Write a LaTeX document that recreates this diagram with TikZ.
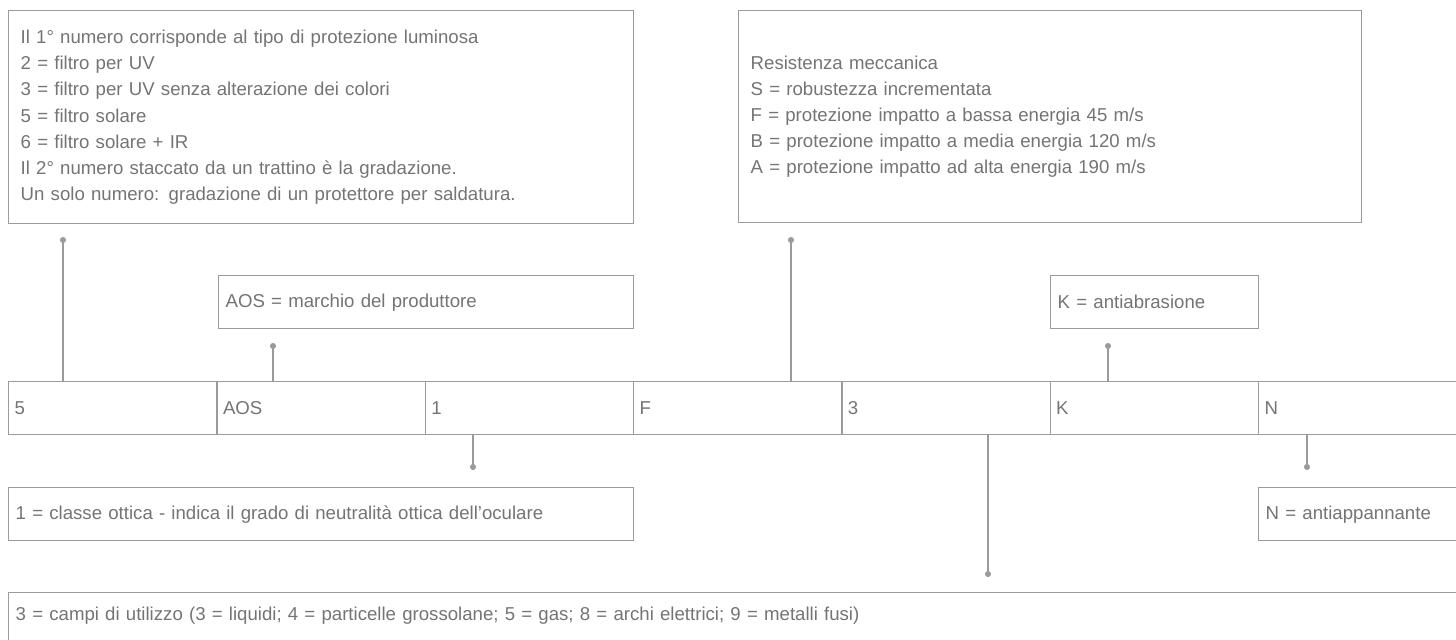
\documentclass[tikz,border=0pt]{standalone}
\usepackage{fontspec}
\setmainfont{Liberation Sans}
\usetikzlibrary{arrows.meta}

\definecolor{linegray}{HTML}{9B9B9B}
\definecolor{textgray}{HTML}{747474}

\tikzset{
	box/.style = {draw = linegray, line width = 0.8pt, anchor = north west, align = left,
		text = textgray, font = \fontsize{10.6}{14.9}\selectfont, inner xsep = 0.14cm},
	bigbox/.style = {box, inner xsep = 0.24cm},
	cell/.style = {box, inner xsep = 0.12cm, minimum width = 4.166cm, text width = 3.926cm, minimum height = 1.06cm},
	link/.style = {draw = linegray, line width = 0.8pt, -{Circle[length = 3.4pt]}}
}

\begin{document}
\begin{tikzpicture}

	\useasboundingbox (0, 0) rectangle (29.12, -12.78);
	\clip (0, 0) rectangle (29.12, -12.78);

	\node [bigbox, text width = 12.02cm, minimum height = 4.26cm] (lum) at (0.16, -0.20)
		{Il 1° numero corrisponde al tipo di protezione luminosa\\
		2 = filtro per UV\\
		3 = filtro per UV senza alterazione dei colori\\
		5 = filtro solare\\
		6 = filtro solare + IR\\
		Il 2° numero staccato da un trattino è la gradazione.\\
		Un solo numero: gradazione di un protettore per saldatura.};

	\node [bigbox, text width = 11.98cm, minimum height = 4.24cm] (mec) at (14.76, -0.20)
		{Resistenza meccanica\\
		S = robustezza incrementata\\
		F = protezione impatto a bassa energia 45 m/s\\
		B = protezione impatto a media energia 120 m/s\\
		A = protezione impatto ad alta energia 190 m/s};

	\node [box, text width = 8.02cm, minimum height = 1.06cm] (brand) at (4.36, -5.50) {AOS = marchio del produttore};
	\node [box, text width = 3.88cm, minimum height = 1.06cm] (abr) at (21.00, -5.50) {K = antiabrasione};

	\foreach \lab/\name [count = \i from 0] in {5/c5, AOS/cAOS, 1/c1, F/cF, 3/c3, K/cK, N/cN}
		\node [cell] (\name) at ({0.16 + 4.166 * \i}, -7.62) {\lab};

	\node [box, text width = 12.22cm, minimum height = 1.06cm] (opt) at (0.16, -9.74) {1 = classe ottica - indica il grado di neutralità ottica dell’oculare};
	\node [box, text width = 4.72cm, minimum height = 1.06cm] (fog) at (25.16, -9.74) {N = antiappannante};

	\node [box, text width = 29.72cm, inner ysep = 8pt, text height = 7.7pt, text depth = 30pt] (use) at (0.16, -11.84)
		{3 = campi di utilizzo (3 = liquidi; 4 = particelle grossolane; 5 = gas; 8 = archi elettrici; 9 = metalli fusi)};

	\coordinate (p5) at (1.26, -4.74);
	\coordinate (pAOS) at (5.46, -6.86);
	\coordinate (pF) at (15.82, -4.74);
	\coordinate (pK) at (22.16, -6.86);
	\coordinate (p1) at (9.46, -9.40);
	\coordinate (p3) at (19.76, -11.54);
	\coordinate (pN) at (26.14, -9.40);

	\draw [link] (c5.north -| p5) -- (p5);
	\draw [link] (cAOS.north -| pAOS) -- (pAOS);
	\draw [link] (cF.north -| pF) -- (pF);
	\draw [link] (cK.north -| pK) -- (pK);
	\draw [link] (c1.south -| p1) -- (p1);
	\draw [link] (c3.south -| p3) -- (p3);
	\draw [link] (cN.south -| pN) -- (pN);

\end{tikzpicture}
\end{document}
